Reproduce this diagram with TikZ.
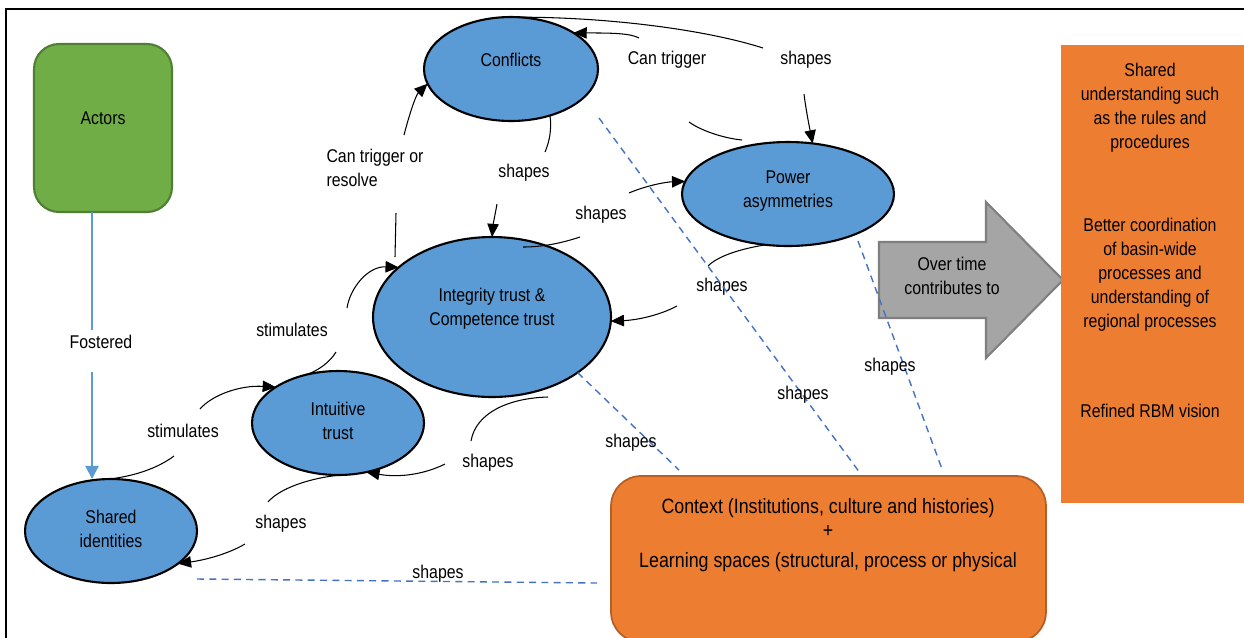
\documentclass[tikz,border=0pt]{standalone}
\usepackage{fontspec}
\setmainfont{Liberation Sans}[FakeStretch=0.86]
\usetikzlibrary{shapes.geometric,arrows.meta}
\definecolor{elblue}{HTML}{5B9BD5}
\definecolor{actgreen}{HTML}{70AD47}
\definecolor{actgreenb}{HTML}{507E32}
\definecolor{ctxorange}{HTML}{ED7D31}
\definecolor{ctxorangeb}{HTML}{B55F25}
\definecolor{arrgray}{HTML}{A5A5A5}
\definecolor{arrgrayb}{HTML}{7F7F7F}
\definecolor{dashblue}{HTML}{4472C4}
\definecolor{fostblue}{HTML}{5B9BD5}
\begin{document}
\begin{tikzpicture}[x=0.02cm,y=-0.02cm,
  every node/.style={font=\fontsize{10.5}{13.6}\selectfont, inner sep=0pt, outer sep=0pt},
  ell/.style={ellipse, draw=black, line width=1.2pt, fill=elblue},
  txt/.style={align=center, text=black},
  lab/.style={align=center},
  conn/.style={line width=0.6pt, black},
  conna/.style={conn, -{Triangle[length=7.5pt,width=6.5pt]}},
  dsh/.style={dashblue, line width=0.8pt, dash pattern=on 4pt off 3pt},
  fost/.style={fostblue, line width=1.1pt},
]
\path[use as bounding box] (0,0) rectangle (1244,637);
\clip (0,0) rectangle (1244,637);
\fill[white] (0,0) rectangle (1244,637);
% frame
\draw[black, line width=1.2pt] (6,700) -- (6,9) -- (1300,9);

% shapes
\node[draw=actgreenb, fill=actgreen, line width=1.2pt, rounded corners=0.5cm,
      minimum width=2.76cm, minimum height=3.36cm] (actors) at (103,128) {};
\node[txt] (actorst) at (103,118) {Actors};

\node[ell, minimum width=3.44cm, minimum height=2.08cm] (sid) at (111,531) {};
\node[txt] (sidt) at (111,529) {Shared\\identities};

\node[ell, minimum width=3.44cm, minimum height=2.08cm] (intu) at (338,423) {};
\node[txt] (intut) at (338,421) {Intuitive\\trust};

\node[ell, minimum width=4.76cm, minimum height=3.2cm] (integ) at (492,317) {};
\node[txt] (integt) at (492,309) {Integrity trust \&\\Competence trust};

\node[ell, minimum width=3.48cm, minimum height=2.08cm] (conf) at (511,69) {};
\node[txt] (conft) at (511,60) {Conflicts};

\node[ell, minimum width=4.24cm, minimum height=2.08cm] (power) at (788,194) {};
\node[txt] (powert) at (788,191) {Power\\asymmetries};

% gray arrow
\draw[fill=arrgray, draw=arrgrayb, line width=1.2pt]
  (879,242) -- (986,242) -- (986,202) -- (1063,280) -- (986,358) -- (986,318) -- (879,318) -- cycle;
\node[txt] (ovt) at (952,276) {Over time\\contributes to};

% right box
\node[fill=ctxorange, minimum width=3.9cm, minimum height=9.16cm] (outbox) at (1158,274) {};
\node[txt] (o1) at (1150,108) {Shared\\understanding such\\as the rules and\\procedures};
\node[txt] (o2) at (1150,275) {Better coordination\\of basin-wide\\processes and\\understanding of\\regional processes};
\node[txt] (o3) at (1150,411) {Refined RBM vision};

% context box
\node[draw=ctxorangeb, fill=ctxorange, line width=1pt, rounded corners=0.6cm,
      minimum width=8.7cm, minimum height=3.32cm] (ctx) at (828.5,559) {};
\node[txt, font=\fontsize{11.8}{13.6}\selectfont] (ctxt) at (828,535) {Context (Institutions, culture and histories)\\+\\[3.4pt]Learning spaces (structural, process or physical};

% Fostered
\coordinate (fa) at (92,330);
\coordinate (fb) at (92,372);
\node[lab] (fostl) at (101,342) {Fostered};
\draw[fost] (actors.south -| fa) -- (fa);
\draw[fost, -{Triangle[length=7.5pt,width=7.5pt]}] (fb) -- (fb |- sid.north);

% stimulates: shared identities -> intuitive
\node[lab] (l2) at (183,431) {stimulates};
\coordinate (c2a) at (174,456);
\coordinate (c2b) at (200,409);
\draw[conn] (sid.92) .. controls (135,476) and (158,468) .. (c2a);
\draw[conna] (c2b) .. controls (212,395) and (240,385) .. (intu.150);

% stimulates: intuitive -> integrity
\node[lab] (l3) at (292,330) {stimulates};
\coordinate (c3a) at (336,352);
\coordinate (c3b) at (347,308);
\draw[conn] (intu.124) .. controls (318,371) and (330,362) .. (c3a);
\draw[conna] (c3b) .. controls (350,288) and (368,266) .. (integ.152);

% can trigger or resolve: integrity -> conflicts
\node[lab, align=left] (l4) at (375,168) {Can trigger or\\resolve};
\coordinate (c4a) at (395,257);
\coordinate (c4b) at (396,213);
\coordinate (c4c) at (404,135);
\draw[conn] (c4a) -- (c4b);
\draw[conna] (c4c) .. controls (410,112) and (416,95) .. (conf.190);

% shapes: conflicts -> integrity
\node[lab] (l5) at (524,173) {shapes};
\coordinate (c5a) at (545,152);
\coordinate (c5b) at (497,204);
\draw[conn] (conf.-50) .. controls (552,130) and (549,143) .. (c5a);
\draw[conna] (c5b) .. controls (495,215) and (493,225) .. (integ.north);

% can trigger: power -> conflicts
\node[lab] (l6) at (667,60) {Can trigger};
\coordinate (c6a) at (742,140);
\coordinate (c6b) at (689,122);
\coordinate (c6c) at (639,38);
\draw[conn] (c6a) .. controls (722,138) and (700,130) .. (c6b);
\draw[conna] (c6c) .. controls (630,33) and (610,33) .. (conf.30);

% shapes: conflicts -> power
\node[lab] (l7) at (806,60) {shapes};
\coordinate (c7a) at (763,48);
\coordinate (c7b) at (804,94);
\draw[conn] (conf.82) .. controls (600,17) and (700,28) .. (c7a);
\draw[conna] (c7b) .. controls (806,110) and (809,125) .. (power.64);

% shapes: integrity -> power
\node[lab] (l8) at (601,215) {shapes};
\coordinate (c8a) at (523,247);
\coordinate (c8b) at (580,237);
\coordinate (c8c) at (629,193);
\draw[conn] (c8a) .. controls (543,247) and (562,243) .. (c8b);
\draw[conna] (c8c) .. controls (645,186) and (665,182) .. (power.173);

% shapes: power -> integrity
\node[lab] (l9) at (722,287) {shapes};
\coordinate (c9a) at (708,266);
\coordinate (c9b) at (677,306);
\draw[conn] (power.-114) .. controls (740,249) and (718,256) .. (c9a);
\draw[conna] (c9b) .. controls (660,315) and (638,320) .. (integ.-2);

% shapes: integrity -> intuitive
\node[lab] (l10) at (488,463) {shapes};
\coordinate (c10a) at (548,397);
\coordinate (c10b) at (471,441);
\coordinate (c10c) at (445,464);
\draw[conn] (c10a) .. controls (510,398) and (476,412) .. (c10b);
\draw[conna] (c10c) .. controls (425,474) and (400,478) .. (intu.-60);

% shapes: intuitive -> shared identities
\node[lab] (l11) at (281,524) {shapes};
\coordinate (c11a) at (268,502);
\coordinate (c11b) at (245,544);
\draw[conn] (intu.-87) .. controls (310,478) and (280,488) .. (c11a);
\draw[conna] (c11b) .. controls (228,554) and (205,560) .. (sid.-26);

% dashed context lines
\coordinate (d1a) at (197,579);
\coordinate (d1b) at (597,583);
\coordinate (d2b) at (679,470);
\coordinate (d3a) at (599,118);
\coordinate (d3b) at (860,473);
\coordinate (d4a) at (858,241);
\coordinate (d4b) at (942,469);
\draw[dsh] (d1a) -- (d1b);
\draw[dsh] (integ.-33) -- (d2b);
\draw[dsh] (d3a) -- (d3b);
\draw[dsh] (d4a) -- (d4b);
\node[lab] (da) at (438,574) {shapes};
\node[lab] (db) at (631,443) {shapes};
\node[lab] (dc) at (803,395) {shapes};
\node[lab] (dd) at (890,367) {shapes};
\end{tikzpicture}
\end{document}
